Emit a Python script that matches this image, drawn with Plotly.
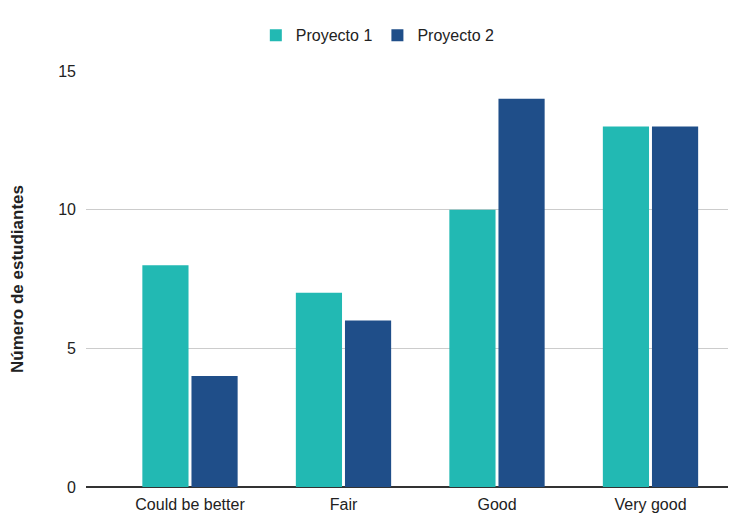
import plotly.graph_objects as go

categories = ["Could be better", "Fair", "Good", "Very good"]
proyecto1 = [8, 7, 10, 13]
proyecto2 = [4, 6, 14, 13]
y_ticks = [0, 5, 10, 15]

fig = go.Figure()
fig.add_trace(go.Bar(name="Proyecto 1", x=categories, y=proyecto1,
                     marker=dict(color="#22b9b3", line=dict(width=0))))
fig.add_trace(go.Bar(name="Proyecto 2", x=categories, y=proyecto2,
                     marker=dict(color="#1f4e89", line=dict(width=0))))

fig.update_layout(
    width=728, height=514,
    margin=dict(l=78, r=0, t=63, b=35),
    paper_bgcolor="white", plot_bgcolor="white",
    font=dict(family="Liberation Sans, Arial, sans-serif", size=16, color="#222"),
    barmode="group", bargap=0.36, bargroupgap=0.06,
    legend=dict(orientation="h", x=0.508, xanchor="center", y=0.947, yanchor="middle",
                xref="container", yref="container", font=dict(size=16, color="#222")),
    xaxis=dict(range=[-0.6775, 3.557], showgrid=False, ticks="", ticklabelstandoff=6,
               tickfont=dict(size=16, color="#222"), showline=False),
    yaxis=dict(range=[0, 15], tickvals=y_ticks, showgrid=True, gridcolor="#cccccc",
               gridwidth=1, zeroline=True, zerolinecolor="#333333", zerolinewidth=1.5,
               ticks="", ticklabelstandoff=9, tickfont=dict(size=16, color="#222"),
               title=dict(text="<b>Número de estudiantes</b>", font=dict(size=17, color="#222"),
                          standoff=36)),
)

fig.write_html("out.html")
